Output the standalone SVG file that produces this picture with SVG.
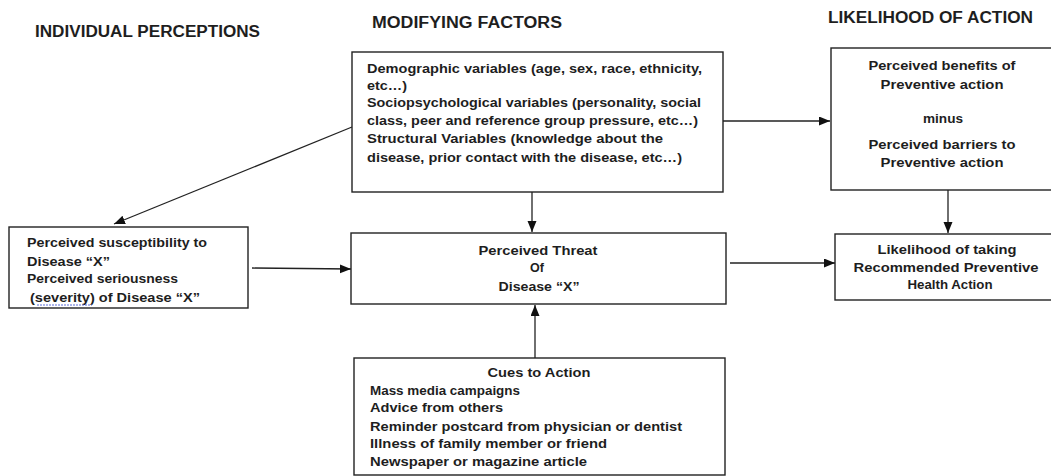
<svg xmlns="http://www.w3.org/2000/svg" width="1051" height="476" viewBox="0 0 1051 476">
<defs>
<style>
.box{fill:#fff;stroke:#222;stroke-width:1.4}
.h{font-family:"Liberation Sans",Arial,sans-serif;font-weight:bold;font-size:16px;fill:#1e1e1e}
.t{font-family:"Liberation Sans",Arial,sans-serif;font-weight:bold;font-size:12.5px;fill:#1e1e1e}
.c{text-anchor:middle}
.ln{stroke:#222;stroke-width:1.3;fill:none;marker-end:url(#ah)}
</style>
<marker id="ah" markerUnits="userSpaceOnUse" markerWidth="12" markerHeight="10" refX="11" refY="4.5" orient="auto">
<path d="M0,0 L11,4.5 L0,9 z" fill="#111"/>
</marker>
</defs>
<rect width="1051" height="476" fill="#fff"/>
<g id="headers">
<text class="h" x="35" y="37" textLength="225" lengthAdjust="spacingAndGlyphs">INDIVIDUAL PERCEPTIONS</text>
<text class="h" x="372" y="28" textLength="190" lengthAdjust="spacingAndGlyphs">MODIFYING FACTORS</text>
<text class="h" x="828" y="23" textLength="205" lengthAdjust="spacingAndGlyphs">LIKELIHOOD OF ACTION</text>
</g>
<g id="connectors">
<line class="ln" x1="352" y1="127" x2="114" y2="224"/>
<line class="ln" x1="532" y1="192" x2="532" y2="232"/>
<line class="ln" x1="723" y1="121" x2="830" y2="121"/>
<line class="ln" x1="252" y1="268" x2="351" y2="269"/>
<line class="ln" x1="730" y1="263" x2="835" y2="263"/>
<line class="ln" x1="535" y1="358" x2="535" y2="305"/>
<line class="ln" x1="948" y1="190" x2="948" y2="233"/>
</g>
<g id="modifying">
<rect class="box" x="352" y="52" width="371" height="140"/>
<text class="t" x="367" y="73" textLength="335" lengthAdjust="spacingAndGlyphs">Demographic variables (age, sex, race, ethnicity,</text>
<text class="t" x="367" y="90" textLength="40" lengthAdjust="spacingAndGlyphs">etc…)</text>
<text class="t" x="367" y="107" textLength="334" lengthAdjust="spacingAndGlyphs">Sociopsychological variables (personality, social</text>
<text class="t" x="367" y="125" textLength="331" lengthAdjust="spacingAndGlyphs">class, peer and reference group pressure, etc…)</text>
<text class="t" x="367" y="143" textLength="296" lengthAdjust="spacingAndGlyphs">Structural Variables (knowledge about the</text>
<text class="t" x="367" y="162" textLength="315" lengthAdjust="spacingAndGlyphs">disease, prior contact with the disease, etc…)</text>
</g>
<g id="perceptions">
<rect class="box" x="9" y="227" width="239" height="81"/>
<text class="t" x="27" y="247" textLength="180" lengthAdjust="spacingAndGlyphs">Perceived susceptibility to</text>
<text class="t" x="27" y="266" textLength="83" lengthAdjust="spacingAndGlyphs">Disease “X”</text>
<text class="t" x="27" y="283" textLength="151" lengthAdjust="spacingAndGlyphs">Perceived seriousness</text>
<text class="t" x="30" y="302" textLength="170" lengthAdjust="spacingAndGlyphs">(severity) of Disease “X”</text>
<line x1="37" y1="305" x2="92" y2="305" stroke="#5a6cd8" stroke-width="1" stroke-dasharray="2,1"/>
</g>
<g id="threat">
<rect class="box" x="351" y="233" width="375" height="71"/>
<text class="t c" x="538" y="255" textLength="119" lengthAdjust="spacingAndGlyphs">Perceived Threat</text>
<text class="t c" x="537" y="272">Of</text>
<text class="t c" x="539" y="291" textLength="81" lengthAdjust="spacingAndGlyphs">Disease “X”</text>
</g>
<g id="benefits">
<rect class="box" x="831" y="48" width="222" height="142"/>
<text class="t c" x="942" y="70" textLength="147" lengthAdjust="spacingAndGlyphs">Perceived benefits of</text>
<text class="t c" x="942" y="89" textLength="123" lengthAdjust="spacingAndGlyphs">Preventive action</text>
<text class="t c" x="943" y="123" textLength="40" lengthAdjust="spacingAndGlyphs">minus</text>
<text class="t c" x="942" y="149" textLength="147" lengthAdjust="spacingAndGlyphs">Perceived barriers to</text>
<text class="t c" x="942" y="167" textLength="123" lengthAdjust="spacingAndGlyphs">Preventive action</text>
</g>
<g id="likelihood">
<rect class="box" x="835" y="234" width="218" height="66"/>
<text class="t c" x="947" y="254" textLength="139" lengthAdjust="spacingAndGlyphs">Likelihood of taking</text>
<text class="t c" x="946" y="272" textLength="185" lengthAdjust="spacingAndGlyphs">Recommended Preventive</text>
<text class="t c" x="950" y="289" textLength="85" lengthAdjust="spacingAndGlyphs">Health Action</text>
</g>
<g id="cues">
<rect class="box" x="354" y="358" width="371" height="117"/>
<text class="t c" x="539" y="377" textLength="103" lengthAdjust="spacingAndGlyphs">Cues to Action</text>
<text class="t" x="370" y="395" textLength="150" lengthAdjust="spacingAndGlyphs">Mass media campaigns</text>
<text class="t" x="370" y="412" textLength="133" lengthAdjust="spacingAndGlyphs">Advice from others</text>
<text class="t" x="370" y="431" textLength="312" lengthAdjust="spacingAndGlyphs">Reminder postcard from physician or dentist</text>
<text class="t" x="370" y="448" textLength="237" lengthAdjust="spacingAndGlyphs">Illness of family member or friend</text>
<text class="t" x="370" y="466" textLength="217" lengthAdjust="spacingAndGlyphs">Newspaper or magazine article</text>
</g>
</svg>
